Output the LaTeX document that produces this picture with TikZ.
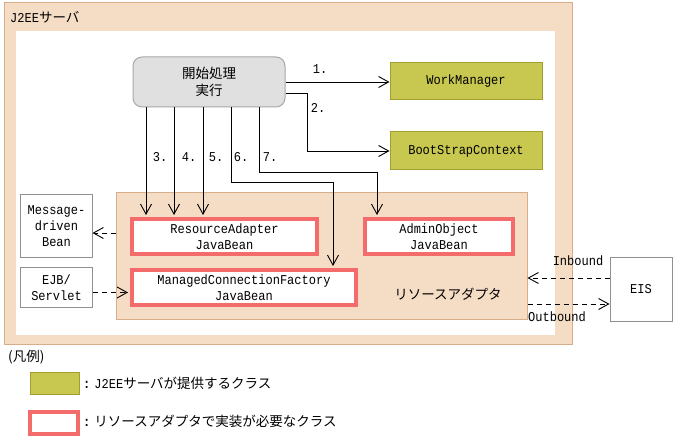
\documentclass[tikz,border=0pt]{standalone}
\usepackage{fontspec}
\setmainfont{Noto Sans CJK JP}
\setmonofont[FakeStretch=0.89]{Liberation Mono}
\usetikzlibrary{arrows.meta,calc}
\definecolor{tanfill}{HTML}{F5DCC5}
\definecolor{tanline}{HTML}{D8AE88}
\definecolor{olivefill}{HTML}{C8C850}
\definecolor{oliveline}{HTML}{A0A030}
\definecolor{redline}{HTML}{F46B6B}
\definecolor{grayfill}{HTML}{E0E0E0}
\definecolor{grayline}{HTML}{A8A8A8}
\definecolor{boxline}{HTML}{909090}
\begin{document}
\begin{tikzpicture}[x=1bp,y=-1bp,
  lat/.style={font=\ttfamily\fontsize{13.5bp}{16bp}\selectfont},
  jp/.style={font=\fontsize{13.5bp}{17bp}\selectfont},
  olivebox/.style={draw=oliveline, fill=olivefill, line width=1bp, inner sep=0, lat},
  redbox/.style={draw=redline, line width=4bp, fill=white, inner sep=0, align=center, lat},
  graybox/.style={draw=boxline, line width=1bp, fill=white, inner sep=0, align=center, lat},
  arr/.style={-{Straight Barb[length=10bp,width=11bp]}, line width=0.9bp},
  darr/.style={arr, dash pattern=on 5bp off 4bp},
  lbl/.style={inner sep=0, lat}]
\useasboundingbox (0,0) rectangle (676,441);
% J2EE server frame
\fill[tanfill, draw=tanline, line width=1bp] (4,3) rectangle (572,344);
\fill[white] (16,31) rectangle (555,335);
\node[jp, anchor=west, inner sep=0] (j2ee) at (10,17) {{\ttfamily J2EE}サーバ};
% start node
\node[draw=grayline, fill=grayfill, line width=1bp, rounded corners=9bp, minimum width=152bp, minimum height=50bp, inner sep=0, align=center, jp] (start) at (209,82) {開始処理\\実行};
% provided classes
\node[olivebox, minimum width=152bp, minimum height=37bp] (wm) at (466,81.5) {WorkManager};
\node[olivebox, minimum width=152bp, minimum height=38bp] (bsc) at (466,151) {BootStrapContext};
% resource adapter region
\node[draw=tanline, fill=tanfill, line width=1bp, minimum width=410bp, minimum height=126bp, inner sep=0] (region) at (322,256) {};
\node[jp, inner sep=0] (ralabel) at (448,294) {リソースアダプタ};
\node[redbox, minimum width=185bp, minimum height=35bp] (ra) at (224.5,236.5) {ResourceAdapter\\JavaBean};
\node[redbox, minimum width=224bp, minimum height=35bp] (mcf) at (244,287.5) {ManagedConnectionFactory\\JavaBean};
\node[redbox, minimum width=148bp, minimum height=35bp] (ao) at (439,236.5) {AdminObject\\JavaBean};
% outside boxes
\node[graybox, minimum width=71bp, minimum height=63bp] (mdb) at (56.5,226.5) {Message-\\driven\\Bean};
\node[graybox, minimum width=71bp, minimum height=39bp] (ejb) at (56.5,287.5) {EJB/\\Servlet};
\node[graybox, minimum width=62bp, minimum height=63bp] (eis) at (641,289.5) {EIS};
% arrows 1 and 2
\draw[arr] (start.east) -- (wm.west |- start.east);
\node[lbl] (l1) at (320,69) {1.};
\draw[arr] ($(start.east)+(0,11)$) -- ++(22,0) |- (bsc.west);
\node[lbl] (l2) at (318,108) {2.};
% arrows 3..7
\coordinate (c3) at (146,0);
\coordinate (c4) at (174,0);
\coordinate (c5) at (203,0);
\coordinate (c6) at (231,0);
\coordinate (c7) at (259,0);
\coordinate (c6b) at (333,0);
\coordinate (c7b) at (377,0);
\draw[arr] (start.south -| c3) -- ($(ra.north -| c3)+(0,-2)$);
\draw[arr] (start.south -| c4) -- ($(ra.north -| c4)+(0,-2)$);
\draw[arr] (start.south -| c5) -- ($(ra.north -| c5)+(0,-2)$);
\draw[arr] (start.south -| c6) -- ++(0,75) -| ($(mcf.north -| c6b)+(0,-2)$);
\draw[arr] (start.south -| c7) -- ++(0,65) -| ($(ao.north -| c7b)+(0,-2)$);
\node[lbl] (l3) at (160,157) {3.};
\node[lbl] (l4) at (189,157) {4.};
\node[lbl] (l5) at (216,157) {5.};
\node[lbl] (l6) at (241,157) {6.};
\node[lbl] (l7) at (270,157) {7.};
% dashed arrows
\coordinate (md) at ($(region.west)+(0,-23)$);
\draw[darr] (md) -- (mdb.east |- md);
\coordinate (ej) at ($(ejb.east)+(0,5)$);
\draw[darr] (ej) -- ($(mcf.west |- ej)+(-2,0)$);
\coordinate (inb) at ($(eis.west)+(0,-11.5)$);
\draw[darr] (inb) -- (region.east |- inb);
\coordinate (outb) at ($(eis.west)+(0,14.5)$);
\draw[darr] (region.east |- outb) -- (outb);
\node[lbl] (inlbl) at (578,261) {Inbound};
\node[lbl] (outlbl) at (557,317) {Outbound};
% legend
\node[jp, anchor=west, inner sep=0] (legend) at (8,357) {(凡例)};
\node[olivebox, minimum width=49bp, minimum height=22bp] (lg1) at (54.5,383) {};
\node[jp, anchor=west, inner sep=0] (lg1t) at (83,383) {{\ttfamily\bfseries :} {\ttfamily J2EE}サーバが提供するクラス};
\node[redbox, minimum width=48bp, minimum height=22bp] (lg2) at (54,423) {};
\node[jp, anchor=west, inner sep=0] (lg2t) at (83,421) {{\ttfamily\bfseries :} リソースアダプタで実装が必要なクラス};
\end{tikzpicture}
\end{document}
